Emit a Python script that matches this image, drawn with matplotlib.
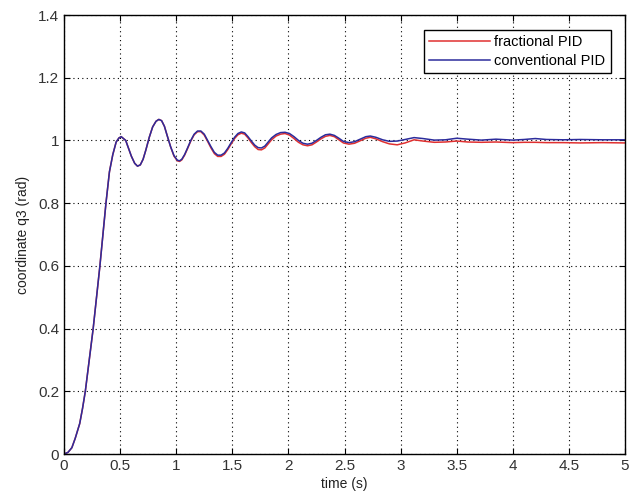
import matplotlib
matplotlib.use("Agg")
import matplotlib.pyplot as plt

plt.rcParams['font.family'] = ['Liberation Sans', 'DejaVu Sans']

# time samples (shared by both responses)
t_conv = [0, 0.035, 0.07, 0.1, 0.14, 0.165, 0.19, 0.225, 0.26, 0.29, 0.32, 0.347, 0.374, 0.405,
          0.435, 0.465, 0.49, 0.51, 0.55, 0.575, 0.6, 0.63, 0.655, 0.68, 0.705, 0.73, 0.76, 0.79,
          0.82, 0.845, 0.87, 0.895, 0.92, 0.95, 0.98, 1.01, 1.03, 1.05, 1.075, 1.1, 1.13,
          1.16, 1.19, 1.22, 1.25, 1.28, 1.31, 1.34, 1.37, 1.4, 1.43, 1.46, 1.49, 1.52, 1.55,
          1.58, 1.61, 1.64, 1.67, 1.7, 1.73, 1.76, 1.79, 1.82, 1.85, 1.89, 1.93, 1.97, 2.01,
          2.05, 2.09, 2.13, 2.17, 2.21, 2.25, 2.29, 2.33, 2.37, 2.41, 2.45, 2.49, 2.54, 2.59,
          2.64, 2.69, 2.73, 2.78, 2.84, 2.9, 2.97, 3.04, 3.12, 3.2, 3.3, 3.4, 3.5, 3.6,
          3.72, 3.85, 4.0, 4.1, 4.2, 4.3, 4.45, 4.6, 4.8, 5.0]
t_frac = list(t_conv)

# conventional PID (blue)
q_conv = [0, 0.005, 0.02, 0.05, 0.097, 0.145, 0.2, 0.3, 0.4, 0.5, 0.6, 0.7, 0.8, 0.9,
          0.955, 0.995, 1.008, 1.012, 1.0, 0.975, 0.95, 0.927, 0.918, 0.922, 0.94, 0.97, 1.01, 1.043,
          1.061, 1.067, 1.063, 1.045, 1.015, 0.98, 0.952, 0.937, 0.935, 0.94, 0.955, 0.975, 1.0,
          1.02, 1.03, 1.03, 1.02, 1.0, 0.98, 0.962, 0.953, 0.953, 0.96, 0.975, 0.993, 1.01, 1.022,
          1.027, 1.024, 1.012, 0.998, 0.985, 0.977, 0.976, 0.982, 0.995, 1.008, 1.019, 1.025, 1.026, 1.022,
          1.012, 1.0, 0.991, 0.988, 0.991, 1.0, 1.01, 1.018, 1.02, 1.016, 1.007, 0.997, 0.993, 0.996,
          1.004, 1.012, 1.014, 1.01, 1.002, 0.997, 0.998, 1.003, 1.009, 1.006, 1.001, 1.002, 1.007, 1.004,
          1.001, 1.004, 1.001, 1.003, 1.006, 1.003, 1.002, 1.003, 1.002, 1.002]

# fractional PID (red)
q_frac = [0, 0.005, 0.02, 0.05, 0.097, 0.145, 0.2, 0.3, 0.4, 0.5, 0.6, 0.7, 0.8, 0.9,
          0.955, 0.995, 1.008, 1.012, 1.0, 0.975, 0.95, 0.927, 0.918, 0.922, 0.94, 0.97, 1.01, 1.043,
          1.061, 1.067, 1.063, 1.045, 1.015, 0.98, 0.95, 0.935, 0.933, 0.938, 0.953, 0.973, 0.998,
          1.018, 1.028, 1.028, 1.017, 0.997, 0.976, 0.958, 0.949, 0.949, 0.956, 0.971, 0.989, 1.006, 1.018,
          1.023, 1.02, 1.008, 0.993, 0.98, 0.971, 0.97, 0.976, 0.989, 1.002, 1.014, 1.02, 1.022, 1.017,
          1.006, 0.994, 0.986, 0.983, 0.986, 0.995, 1.005, 1.013, 1.016, 1.012, 1.002, 0.992, 0.988, 0.991,
          0.999, 1.007, 1.01, 1.005, 0.996, 0.989, 0.986, 0.992, 1.002, 0.998, 0.994, 0.995, 0.998, 0.995,
          0.994, 0.995, 0.993, 0.994, 0.994, 0.993, 0.993, 0.992, 0.993, 0.992]

x_ticks = [0, 0.5, 1, 1.5, 2, 2.5, 3, 3.5, 4, 4.5, 5]
x_ticklabels = ['0', '0.5', '1', '1.5', '2', '2.5', '3', '3.5', '4', '4.5', '5']
y_ticks = [0, 0.2, 0.4, 0.6, 0.8, 1.0, 1.2, 1.4]
y_ticklabels = ['0', '0.2', '0.4', '0.6', '0.8', '1', '1.2', '1.4']

fig = plt.figure(figsize=(6.42, 5.0), dpi=100)
ax = fig.add_axes([64/642, 46/500, (625-64)/642, (454-15)/500])

ax.plot(t_frac, q_frac, color='#e03030', lw=1.1, label='fractional PID')
ax.plot(t_conv, q_conv, color='#2c2c9c', lw=1.1, label='conventional PID')

ax.set_xlim(0, 5)
ax.set_ylim(0, 1.4)
ax.set_xticks(x_ticks)
ax.set_xticklabels(x_ticklabels)
ax.set_yticks(y_ticks)
ax.set_yticklabels(y_ticklabels)
ax.tick_params(direction='in', top=True, right=True, labelsize=11, length=4, colors='black')
for lbl in ax.get_xticklabels() + ax.get_yticklabels():
    lbl.set_color('#333333')
ax.grid(True, linestyle=(0, (1, 3)), color='black', lw=0.8)
for s in ax.spines.values():
    s.set_linewidth(1.0)

ax.set_xlabel('time (s)', fontsize=10, color='#222222', labelpad=3)
ax.set_ylabel('coordinate q3 (rad)', fontsize=10, color='#222222', labelpad=6)

leg = ax.legend(loc='upper right', bbox_to_anchor=(618/642, 1 - 23/500), bbox_transform=fig.transFigure,
                fancybox=False, edgecolor='black', framealpha=1, fontsize=10.5,
                handlelength=4.2, borderpad=0.35, labelspacing=0.3, handletextpad=0.3)
leg.get_frame().set_linewidth(1.0)

fig.savefig('out.png', dpi=100)
